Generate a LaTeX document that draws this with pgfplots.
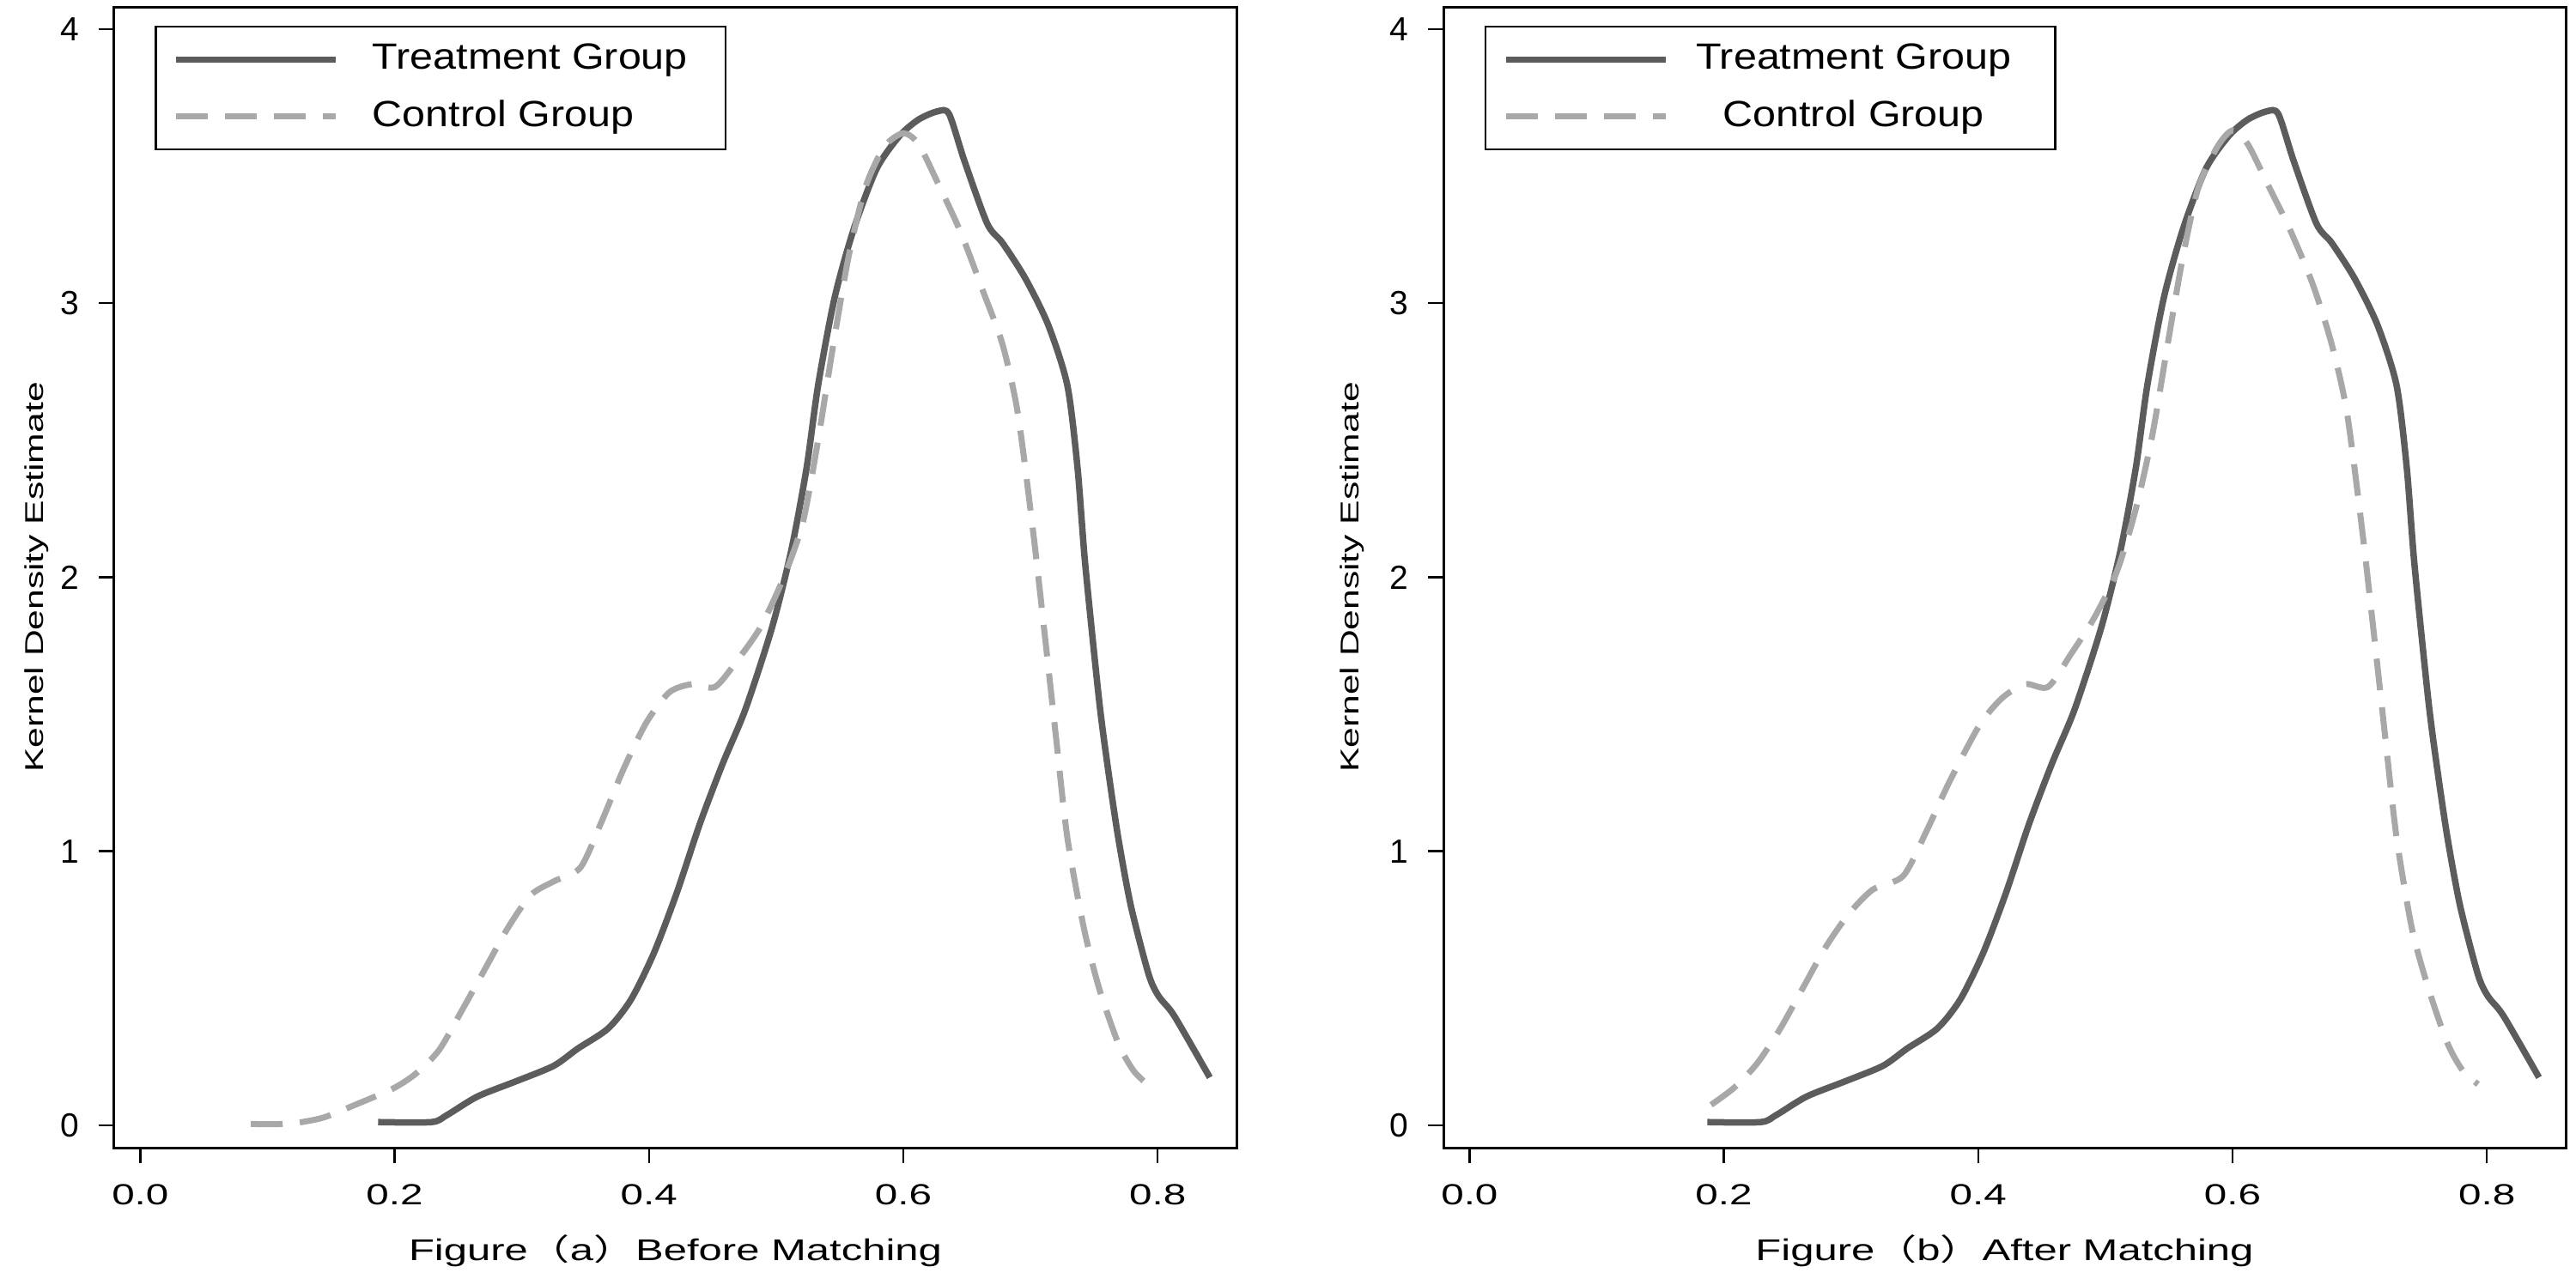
\documentclass[border=0pt]{standalone}
\usepackage{fontspec}
\setmainfont{Liberation Sans}
\newfontfamily\cjk{Noto Sans CJK SC}
\usepackage{graphicx}
\usepackage{pgfplots}
\pgfplotsset{compat=1.18}
\definecolor{treat}{RGB}{92,92,92}
\definecolor{ctrl}{RGB}{168,168,168}
\newcommand\sx[1]{\scalebox{1.4}[1]{#1}}
\newcommand\LL[1]{\makebox[86pt][l]{\hspace{7.8pt}\scalebox{1.14}[1]{#1}}}
\newcommand\LC[1]{\makebox[86pt][c]{\scalebox{1.14}[1]{#1}}}
\newcommand\YL{\scalebox{1.42}[1]{Kernel Density Estimate}}

\pgfplotstableread{
x y
0.187 0.012
0.229 0.012
0.241 0.037
0.265 0.105
0.295 0.160
0.325 0.217
0.344 0.280
0.368 0.354
0.386 0.460
0.404 0.630
0.422 0.850
0.440 1.100
0.458 1.320
0.476 1.520
0.497 1.820
0.512 2.100
0.524 2.400
0.533 2.700
0.546 3.020
0.561 3.270
0.579 3.490
0.597 3.610
0.612 3.670
0.627 3.700
0.636 3.690
0.648 3.520
0.666 3.290
0.678 3.220
0.696 3.090
0.714 2.920
0.729 2.700
0.737 2.400
0.743 2.050
0.754 1.550
0.761 1.300
0.769 1.050
0.779 0.800
0.793 0.550
0.801 0.470
0.813 0.400
0.841 0.175
}\treatdata

\pgfplotstableread{
x y
0.087 0.005
0.111 0.005
0.127 0.012
0.145 0.030
0.169 0.075
0.199 0.135
0.217 0.190
0.235 0.275
0.253 0.420
0.271 0.570
0.289 0.720
0.307 0.840
0.325 0.890
0.346 0.940
0.362 1.100
0.380 1.300
0.398 1.470
0.416 1.580
0.434 1.610
0.452 1.600
0.470 1.700
0.488 1.820
0.506 2.000
0.521 2.200
0.533 2.500
0.545 2.850
0.557 3.170
0.570 3.420
0.585 3.570
0.600 3.620
0.612 3.580
0.627 3.440
0.645 3.260
0.663 3.040
0.678 2.850
0.690 2.600
0.702 2.170
0.711 1.800
0.720 1.420
0.729 1.050
0.742 0.720
0.754 0.500
0.769 0.300
0.781 0.200
0.793 0.145
}\ctrlbefore

\pgfplotstableread{
x y
0.190 0.075
0.208 0.137
0.226 0.225
0.244 0.350
0.262 0.500
0.280 0.650
0.298 0.770
0.317 0.860
0.341 0.910
0.359 1.070
0.377 1.250
0.401 1.460
0.419 1.560
0.437 1.610
0.455 1.600
0.473 1.720
0.491 1.850
0.509 2.020
0.524 2.250
0.537 2.520
0.549 2.850
0.561 3.170
0.573 3.420
0.588 3.570
0.600 3.630
0.612 3.580
0.627 3.440
0.645 3.270
0.663 3.070
0.678 2.850
0.690 2.600
0.702 2.170
0.711 1.800
0.720 1.420
0.729 1.050
0.741 0.720
0.754 0.500
0.769 0.300
0.781 0.200
0.793 0.150
}\ctrlafter

\pgfplotsset{
  kd/.style={
    scale only axis, width=261.4pt, height=265.8pt,
    xmin=-0.0205, xmax=0.862, ymin=-0.0814, ymax=4.081,
    /pgf/number format/assume math mode=true,
    xtick={0,0.2,0.4,0.6,0.8},
    xticklabels={\sx{0.0},\sx{0.2},\sx{0.4},\sx{0.6},\sx{0.8}},
    ytick={0,1,2,3,4}, yticklabels={0,1,2,3,4},
    xtick pos=bottom, ytick pos=left,
    tick align=outside, major tick length=3.6pt,
    tick style={black, line width=0.5pt},
    axis line style={black, line width=0.6pt},
    xticklabel style={font=\fontsize{6.8}{8}\selectfont, inner sep=0pt, anchor=north, yshift=-4.8pt},
    yticklabel style={font=\fontsize{7.8}{9}\selectfont, inner sep=0pt, anchor=east, xshift=-4.4pt},
    xlabel style={font=\fontsize{7}{8}\selectfont, at={(axis description cs:0.5,0)}, anchor=base, yshift=-26.2pt, inner sep=0pt},
    ylabel style={font=\fontsize{6}{7}\selectfont, anchor=center, inner sep=0pt},
    legend style={draw=black, line width=0.5pt, inner xsep=4pt, inner ysep=1.1pt,
      row sep=0pt, column sep=0pt, font=\fontsize{8.5}{10}\selectfont,
      nodes={inner sep=0pt, minimum height=13.2pt, anchor=center}},
    legend image code/.code={\draw[#1] (0pt,0pt) -- (37.2pt,0pt);},
    no markers,
  },
  tr/.style={draw=treat, line width=1.5pt, smooth, tension=0.45},
  ct/.style={draw=ctrl, line width=1.4pt, dash pattern=on 7.4pt off 4pt, smooth, tension=0.45},
}

\begin{document}
\begin{tikzpicture}
\useasboundingbox (0pt,0pt) rectangle (600pt,-297.8pt);
\begin{axis}[kd, at={(26.6pt,-267.4pt)}, anchor=south west,
  xlabel={\scalebox{1.4}[1]{Figure{\cjk （}a{\cjk ）}Before Matching}},
  ylabel={\YL},
  ylabel style={at={(axis description cs:-0.0689,0.5)}},
  legend style={at={(axis description cs:0.036,0.9835)}, anchor=north west}]
\addplot[tr] table[x=x,y=y] {\treatdata};
\addlegendentry{\LL{Treatment Group}}
\addplot[ct] table[x=x,y=y] {\ctrlbefore};
\addlegendentry{\LL{Control Group}}
\end{axis}
\begin{axis}[kd, at={(336.2pt,-267.4pt)}, anchor=south west,
  xlabel={\scalebox{1.4}[1]{Figure{\cjk （}b{\cjk ）}After Matching}},
  ylabel={\YL},
  ylabel style={at={(axis description cs:-0.0811,0.5)}},
  legend style={at={(axis description cs:0.0367,0.9835)}, anchor=north west}]
\addplot[tr] table[x=x,y=y] {\treatdata};
\addlegendentry{\LC{Treatment Group}}
\addplot[ct] table[x=x,y=y] {\ctrlafter};
\addlegendentry{\LC{Control Group}}
\end{axis}
\end{tikzpicture}
\end{document}
